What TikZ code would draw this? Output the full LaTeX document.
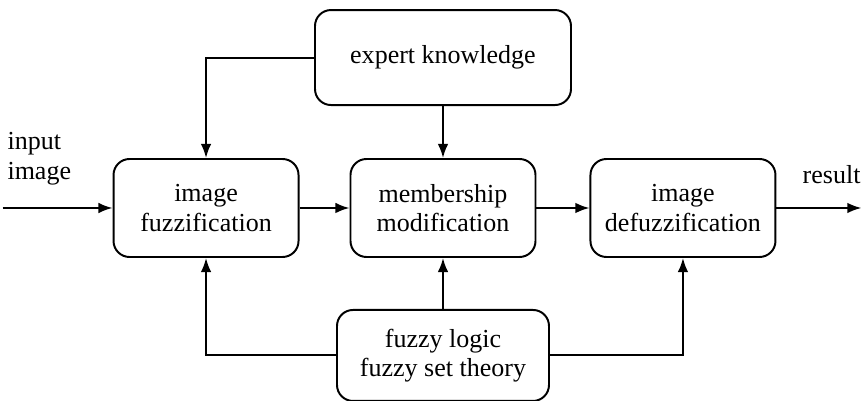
\documentclass[tikz,border=0pt]{standalone}
\usepackage{fontspec}
\setmainfont{Liberation Serif}
\usetikzlibrary{arrows.meta,positioning}

\begin{document}
\begin{tikzpicture}[
      node distance=1.25cm,
      line width=1.4pt,
      obj/.style={rectangle,rounded corners=0.4cm,draw,minimum width=4.625cm,minimum height=2.45cm,align=center,font=\rmfamily\fontsize{18.5}{21}\selectfont},
      lbl/.style={align=left,inner sep=0pt,font=\rmfamily\fontsize{18.5}{21}\selectfont},
      >={Latex[length=10pt,width=7.5pt]}
    ]
    \useasboundingbox (-11.075,-4.825) rectangle (10.525,5.2);
    \node[obj] (memb) {membership\\modification};
    \node[obj,left=1.25cm of memb] (fuzz) {image\\fuzzification};
    \node[obj,right=1.325cm of memb] (defuzz) {image\\defuzzification};
    \node[obj,above=1.3cm of memb,minimum width=6.4cm,minimum height=2.375cm] (expert) {expert knowledge};
    \node[obj,below=1.275cm of memb,minimum width=5.3cm,minimum height=2.275cm] (theory) {fuzzy logic\\fuzzy set theory};

    \coordinate[left=2.75cm of fuzz] (src);
    \coordinate[right=2.125cm of defuzz] (dst);
    \node[lbl,anchor=south west] (inlbl) at ([xshift=0.1cm,yshift=0.55cm]src) {input\\image};
    \node[lbl,anchor=south east] (outlbl) at ([yshift=0.575cm]dst) {result};

    % main chain
    \draw[->] (src) -- (fuzz);
    \draw[->] (fuzz) -- (memb);
    \draw[->] (memb) -- (defuzz);
    \draw[->] (defuzz) -- (dst);

    % knowledge and theory feeds
    \draw[->] (expert.west) -| (fuzz.north);
    \draw[->] (expert) -- (memb);
    \draw[->] (theory) -- (memb);
    \draw[->] (theory.west) -| (fuzz.south);
    \draw[->] (theory.east) -| (defuzz.south);
  \end{tikzpicture}
\end{document}
